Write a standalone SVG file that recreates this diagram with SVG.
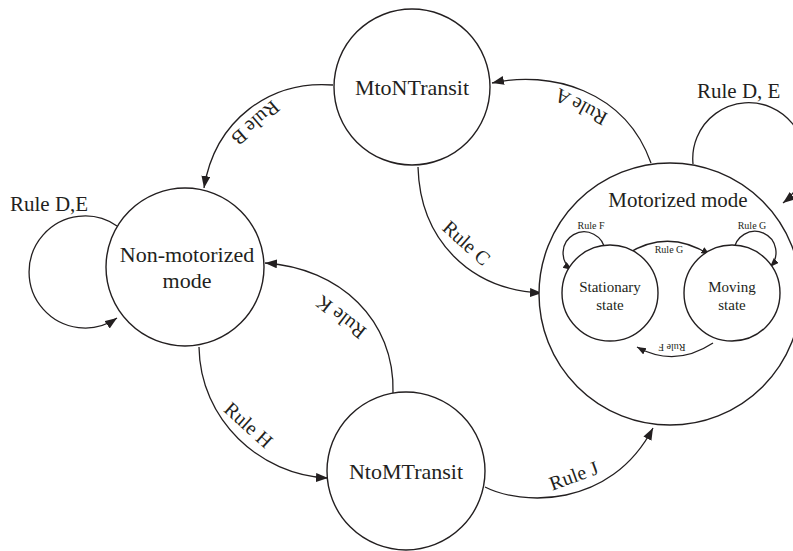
<svg xmlns="http://www.w3.org/2000/svg" width="793" height="551" viewBox="0 0 793 551">
<style>
.n{fill:#fff;stroke:#231f20;stroke-width:1.4}
.e{fill:none;stroke:#231f20;stroke-width:1.3}
.big{marker-end:url(#ab)}
.sm{marker-end:url(#as)}
text{font-family:"Liberation Serif","Times New Roman",Times,"DejaVu Serif","Noto Serif",serif;fill:#231f20}
.t22{font-size:22px;text-anchor:middle}
.t21{font-size:21px}
.t20{font-size:20px;text-anchor:middle}
.t15{font-size:15px;text-anchor:middle}
.t10{font-size:10px;text-anchor:middle}
</style>
<defs>
<marker id="ab" markerUnits="userSpaceOnUse" markerWidth="14" markerHeight="10" refX="12" refY="4.5" orient="auto"><path d="M0,0 L12,4.5 L0,9 z" fill="#231f20"/></marker>
<marker id="as" markerUnits="userSpaceOnUse" markerWidth="11" markerHeight="8" refX="9" refY="3.5" orient="auto"><path d="M0,0 L9,3.5 L0,7 z" fill="#231f20"/></marker>
</defs>
<rect width="793" height="551" fill="#fff"/>
<g id="connectors">
<path class="e big" d="M117 226 A56 56 0 1 0 117 318"/>
<path class="e big" d="M693 164 A56 56 0 1 1 783 203"/>
<path class="e big" d="M651 163 C625 90 550 70 492 83"/>
<path class="e big" d="M333 85 C270 80 215 120 204 188"/>
<path class="e big" d="M418 167 C420 240 470 290 542 293"/>
<path class="e big" d="M199 347 C200 420 260 475 328 478"/>
<path class="e big" d="M393 393 C395 320 340 268 265 263"/>
<path class="e big" d="M485 487 C520 505 610 510 653 428"/>
</g>
<g id="motorized">
<circle class="n" cx="670" cy="294" r="131"/>
<text class="t21" x="678" y="207" text-anchor="middle">Motorized mode</text>
<g id="inner-connectors">
<path class="e sm" d="M605 251 A21 21 0 1 0 572 270"/>
<path class="e sm" d="M734 251 A21 21 0 1 1 770 267"/>
<path class="e sm" d="M627 254 Q668 228 710 255"/>
<path class="e sm" d="M713 343 Q675 368 637 347"/>
</g>
<g id="stationary">
<circle class="n" cx="610" cy="293" r="48"/>
<text class="t15" x="610" y="292">Stationary</text>
<text class="t15" x="610" y="310">state</text>
</g>
<g id="moving">
<circle class="n" cx="732" cy="293" r="48"/>
<text class="t15" x="732" y="292">Moving</text>
<text class="t15" x="732" y="310">state</text>
</g>
<text class="t10" x="591" y="229">Rule F</text>
<text class="t10" x="752" y="229">Rule G</text>
<text class="t10" x="669" y="253">Rule G</text>
<text class="t10" x="672" y="344" transform="rotate(180 672 344)">Rule F</text>
</g>
<g id="mton">
<circle class="n" cx="412" cy="87" r="78"/>
<text class="t22" x="412" y="95">MtoNTransit</text>
</g>
<g id="nonmotorized">
<circle class="n" cx="185" cy="267" r="79"/>
<text class="t22" x="187" y="262">Non-motorized</text>
<text class="t22" x="187" y="288">mode</text>
</g>
<g id="ntom">
<circle class="n" cx="406" cy="471" r="79"/>
<text class="t22" x="406" y="479">NtoMTransit</text>
</g>
<g id="labels">
<text class="t21" x="10" y="211">Rule D,E</text>
<text class="t21" x="697" y="98">Rule D, E</text>
<text class="t20" x="584" y="101" transform="rotate(208 584 101)">Rule A</text>
<text class="t20" x="251" y="118" transform="rotate(139 251 118)">Rule B</text>
<text class="t20" x="462" y="248" transform="rotate(42 462 248)">Rule C</text>
<text class="t20" x="244" y="430" transform="rotate(42 244 430)">Rule H</text>
<text class="t20" x="345" y="312" transform="rotate(218 345 312)">Rule K</text>
<text class="t20" x="576" y="482" transform="rotate(-20 576 482)">Rule J</text>
</g>
</svg>
